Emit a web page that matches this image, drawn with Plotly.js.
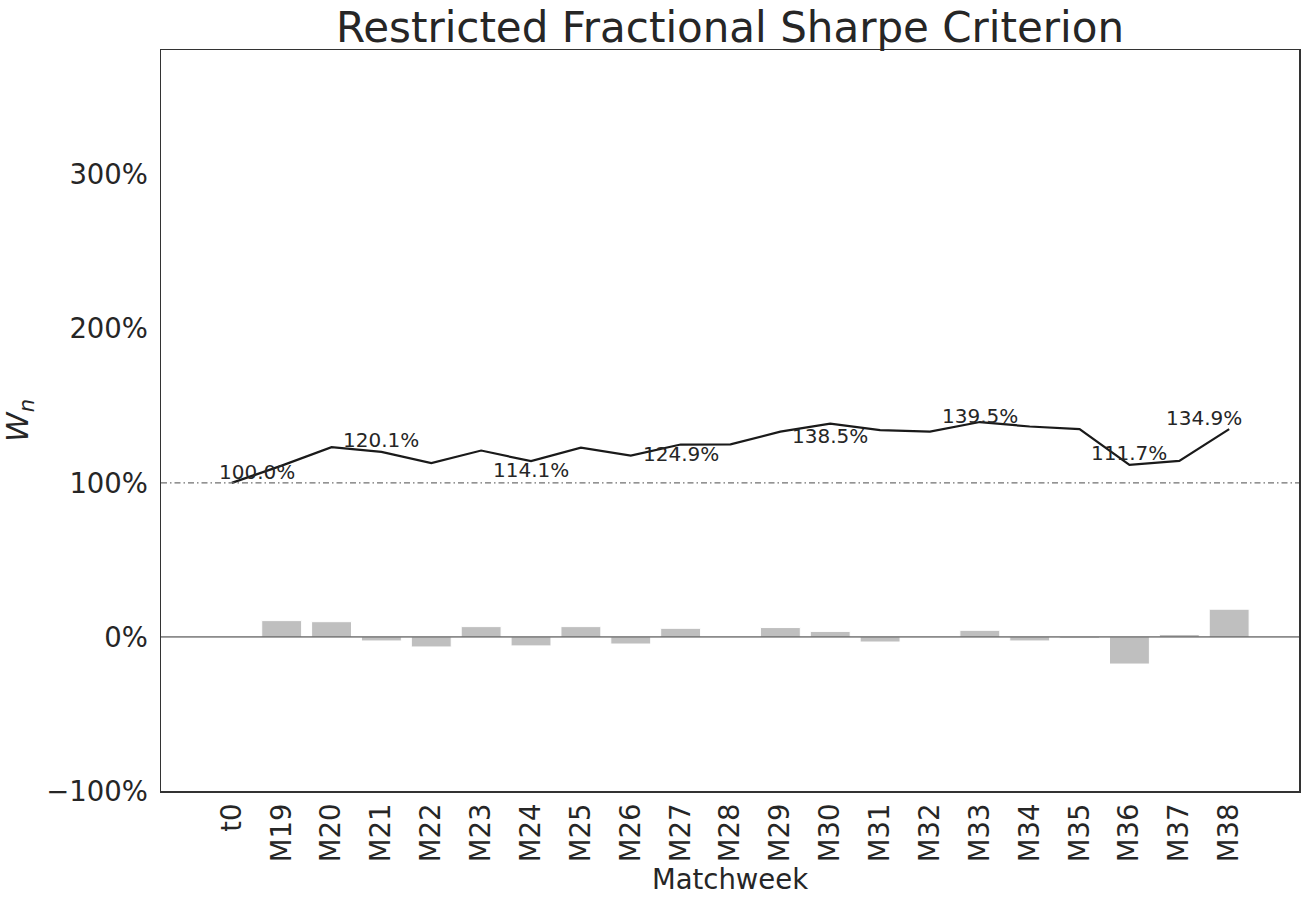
<!DOCTYPE html>
<html>
<head>
<meta charset="utf-8">
<script src="https://cdn.plot.ly/plotly-3.0.1.min.js"></script>
<style>
  body { margin: 0; background: #fff; }
  #chart { width: 1310px; height: 908px; }
</style>
</head>
<body>
<div id="chart"></div>
<script>
// matchweeks
var weeks = ["t0", "M19", "M20", "M21", "M22", "M23", "M24", "M25", "M26", "M27", "M28",
             "M29", "M30", "M31", "M32", "M33", "M34", "M35", "M36", "M37", "M38"];

// wealth W_n in percent of starting bankroll
var wealth = [100.0, 111.2, 123.2, 120.1, 112.8, 121.0, 114.1, 122.9, 117.7, 124.9, 125.0,
              133.3, 138.5, 134.2, 133.3, 139.5, 136.6, 134.9, 111.7, 114.3, 134.9];

// return of each matchweek, percent
var returns = [null, 10.6, 9.9, -2.6, -6.5, 6.7, -5.8, 6.7, -4.6, 5.6, 0,
               6.1, 3.6, -3.3, -0.4, 4.3, -2.6, -0.9, -17.6, 1.6, 18.0];

// y ticks
var yTicks = [-100, 0, 100, 200, 300];
var yTickText = ["\u2212100%", "0%", "100%", "200%", "300%"];

// which points get a label
var labelIdx = [0, 3, 6, 9, 12, 15, 18, 20];

var font = "DejaVu Sans, sans-serif";
var ink = "#262626";

var bars = {
	x: weeks,
	y: returns,
	type: "bar",
	width: 0.8,
	marker: { color: "#bfbfbf", line: { color: "#ffffff", width: 1 } },
	hoverinfo: "skip"
};

var line = {
	x: weeks,
	y: wealth,
	type: "scatter",
	mode: "lines",
	line: { color: "#1a1a1a", width: 2.2 },
	hoverinfo: "skip"
};

// little nudges so the labels sit like in the original (px)
var nudgeY = [11, 12, -9, -9, -12, 6, 11.5, 11];
var nudgeX = [25, 0, 0, 0, 0, 0, 0, -25];

var notes = [];
for (var i = 0; i < labelIdx.length; i++) {
	var k = labelIdx[i];
	notes.push({
		x: k,
		y: wealth[k],
		xref: "x",
		yref: "y",
		text: wealth[k].toFixed(1) + "%",
		showarrow: false,
		xanchor: "center",
		yanchor: "middle",
		xshift: nudgeX[i],
		yshift: nudgeY[i],
		font: { family: font, size: 20, color: ink }
	});
}

var layout = {
	width: 1310,
	height: 908,
	margin: { l: 161, r: 11, t: 50, b: 117 },
	paper_bgcolor: "#ffffff",
	plot_bgcolor: "#ffffff",
	showlegend: false,
	font: { family: font, color: ink },
	title: {
		text: "Restricted Fractional Sharpe Criterion",
		font: { family: font, size: 42, color: ink },
		x: 0.5,
		xref: "paper",
		xanchor: "center",
		y: 1,
		yref: "paper",
		yanchor: "bottom",
		pad: { b: 8 }
	},
	xaxis: {
		type: "category",
		range: [-1.42, 21.4],
		tickangle: -90,
		ticks: "",
		showgrid: false,
		zeroline: false,
		showline: true,
		mirror: true,
		linecolor: "#333333",
		linewidth: 1.5,
		tickfont: { family: font, size: 27.5, color: ink },
		title: { text: "Matchweek", font: { family: font, size: 27.5, color: ink }, standoff: 8 }
	},
	yaxis: {
		range: [-100, 381],
		tickmode: "array",
		tickvals: yTicks,
		ticktext: yTickText,
		ticks: "",
		ticklabelstandoff: 6,
		showgrid: false,
		zeroline: false,
		showline: true,
		mirror: true,
		linecolor: "#333333",
		linewidth: 1.5,
		tickfont: { family: font, size: 27.5, color: ink },
		title: { text: "<i>W</i><sub><i>n</i></sub>", font: { family: font, size: 30, color: ink }, standoff: 10 }
	},
	shapes: [
		{ type: "line", xref: "paper", x0: 0, x1: 1, yref: "y", y0: 0, y1: 0,
		  line: { color: "#333333", width: 1 } },
		{ type: "line", xref: "paper", x0: 0, x1: 1, yref: "y", y0: 100, y1: 100,
		  line: { color: "#707070", width: 1.1, dash: "6px,3px,1.5px,3px" } }
	],
	annotations: notes
};

Plotly.newPlot("chart", [bars, line], layout, { displayModeBar: false, staticPlot: true });
</script>
</body>
</html>
